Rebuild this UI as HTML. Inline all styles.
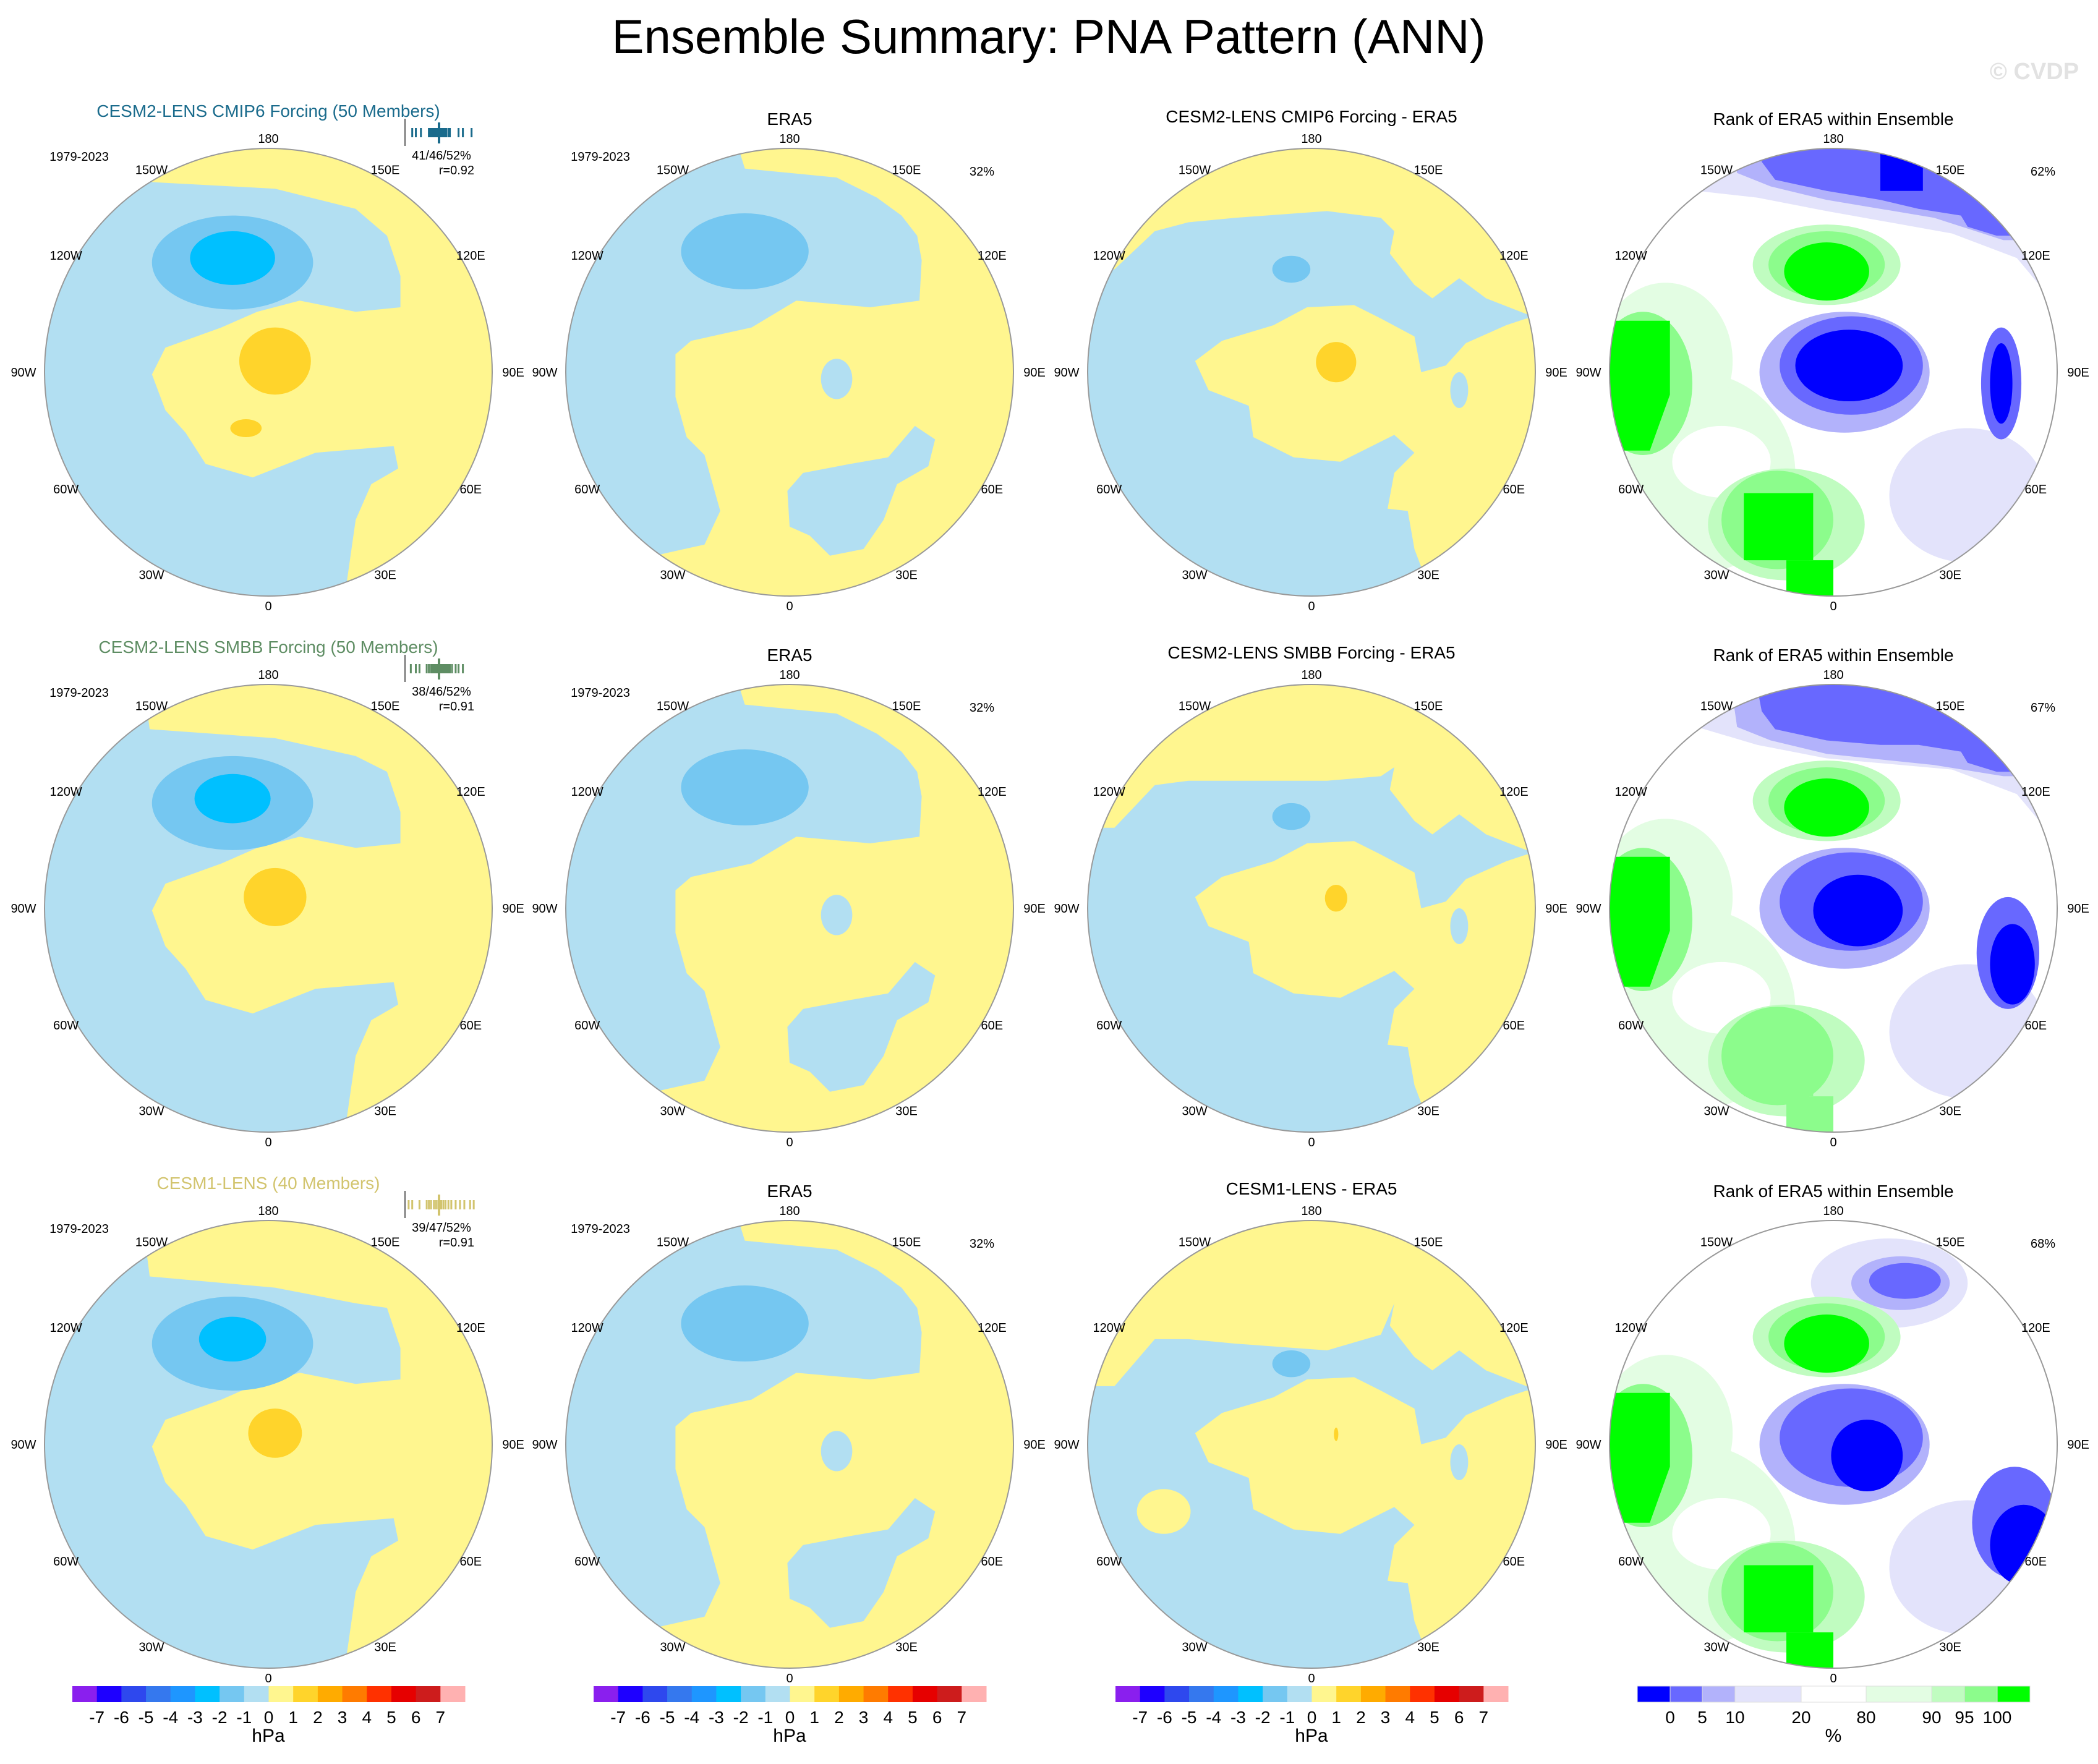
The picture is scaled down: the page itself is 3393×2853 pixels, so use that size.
<!DOCTYPE html>
<html><head><meta charset="utf-8"><title>Ensemble Summary: PNA Pattern (ANN)</title>
<style>
html,body{margin:0;padding:0;background:#fff;}
svg text{font-family:"Liberation Sans",Arial,sans-serif;}
</style></head>
<body>
<svg id="fig" xmlns="http://www.w3.org/2000/svg" width="3393" height="2848" viewBox="0 0 3393 2848">
<rect width="3393" height="2848" fill="#fff"/>
<text x="1696" y="86" font-size="78" text-anchor="middle" fill="#000">Ensemble Summary: PNA Pattern (ANN)</text>
<text x="3290" y="128" font-size="38" font-weight="bold" text-anchor="middle" fill="#e2e2e2">© CVDP</text>
<g id="panels"></g>
</svg>
<script>
// ---- data arrays ----
const colCX = [434, 1277, 2121, 2965];
const rowCY = [602, 1469, 2336];
const R = 362;
const hpaLevels = ["-7","-6","-5","-4","-3","-2","-1","0","1","2","3","4","5","6","7"];
const hpaColors = ["#8a1fee","#1e00ff","#2e48ee","#3578ee","#1e96ff","#00c0ff","#75c7f1","#b2dff2","#fff68f","#ffd42b","#ffab00","#ff7b00","#ff3100","#e60000","#cd1c1c","#ffb1b1"];
const rankLevels = ["0","5","10","20","80","90","95","100"];
const rankEdges = [0,53,105,158,265,370,476,529,582,635];
const rankColors = ["#0000ff","#6868ff","#b2b2fb","#e3e3fb","#ffffff","#e3fde3","#c0fcc0","#8cfc8c","#00ff00"];
const rowTitles = ["CESM2-LENS CMIP6 Forcing (50 Members)","CESM2-LENS SMBB Forcing (50 Members)","CESM1-LENS (40 Members)"];
const diffTitles = ["CESM2-LENS CMIP6 Forcing - ERA5","CESM2-LENS SMBB Forcing - ERA5","CESM1-LENS - ERA5"];
const rowColors = ["#1a6b8c","#5e8d63","#d2c46e"];
const statTexts = ["41/46/52%","38/46/52%","39/47/52%"];
const rTexts = ["r=0.92","r=0.91","r=0.91"];
const rankPct = ["62%","67%","68%"];
const memberVals = [
 [0.1,0.15,0.22,0.33,0.35,0.37,0.39,0.41,0.42,0.44,0.45,0.47,0.48,0.49,0.5,0.51,0.52,0.53,0.55,0.57,0.6,0.62,0.74,0.8,0.92],
 [0.08,0.15,0.2,0.3,0.33,0.36,0.38,0.4,0.42,0.44,0.46,0.47,0.48,0.5,0.51,0.52,0.54,0.56,0.58,0.6,0.62,0.65,0.7,0.74,0.8],
 [0.05,0.1,0.2,0.3,0.33,0.36,0.4,0.43,0.46,0.48,0.5,0.53,0.56,0.6,0.64,0.7,0.76,0.82,0.9,0.95]
];
const Y="#fff68f", B="#b2dff2", B2="#75c7f1", B3="#00c0ff", O="#ffd42b";
const LB="#e3e3fb", MB="#b2b2fb", BB="#6868ff", DB="#0000ff", LG="#e3fde3", MG="#c0fcc0", GG="#8cfc8c", DG="#00ff00";

const ensShape = (k)=>[
 {t:'poly',c:Y,p:[[-0.53,-0.85+k*0.05],[0.03,-0.82+k*0.06],[0.39,-0.73+k*0.05],[0.53,-0.61],[0.59,-0.43],[0.59,-0.29],[0.39,-0.27],[0.14,-0.32],[-0.05,-0.27],[-0.21,-0.2],[-0.46,-0.11],[-0.52,0.01],[-0.46,0.17],[-0.37,0.27],[-0.28,0.41],[-0.07,0.47],[0.21,0.36],[0.56,0.33],[0.58,0.43],[0.46,0.5],[0.39,0.66],[0.35,0.94],[0.3,1.3],[1.3,1.3],[1.3,-1.3],[-0.6,-1.3]]},
 {t:'ell',c:B2,x:-0.16,y:-0.49+k*0.02,rx:0.36,ry:0.21},
 {t:'ell',c:B3,x:-0.16,y:-0.51+k*0.02,rx:0.19-k*0.02,ry:0.12-k*0.01},
 {t:'ell',c:O,x:0.03,y:-0.05,rx:0.16-k*0.02,ry:0.15-k*0.02},
 {t:'ell',c:O,x:-0.1,y:0.25,rx:k?0:0.07,ry:0.04}
];
const eraShape = [
 {t:'poly',c:B,p:[[-0.29,-1.2],[-0.2,-0.91],[0.21,-0.87],[0.39,-0.78],[0.5,-0.7],[0.57,-0.61],[0.59,-0.5],[0.58,-0.32],[0.36,-0.29],[0.03,-0.32],[-0.17,-0.2],[-0.44,-0.14],[-0.51,-0.08],[-0.51,0.11],[-0.46,0.29],[-0.38,0.37],[-0.31,0.62],[-0.38,0.77],[-0.56,0.81],[-1.3,1.0],[-1.3,-1.3]]},
 {t:'ell',c:B2,x:-0.2,y:-0.54,rx:0.285,ry:0.17},
 {t:'ell',c:B,x:0.21,y:0.03,rx:0.07,ry:0.09},
 {t:'poly',c:B,p:[[0.44,0.38],[0.56,0.24],[0.65,0.3],[0.62,0.42],[0.48,0.5],[0.42,0.66],[0.33,0.79],[0.18,0.82],[0.09,0.73],[0,0.69],[-0.01,0.53],[0.06,0.45],[0.27,0.41]]}
];
const diffShape = (k)=>[
 {t:'poly',c:Y,p:[[-1.3,-0.46+k*0.1],[-0.88,-0.46+k*0.1],[-0.7,-0.63+k*0.08],[-0.55,-0.67+k*0.1],[-0.34,-0.69+k*0.12],[0.07,-0.72+k*0.15],[0.31,-0.69+k*0.1],[0.37,-0.63],[0.35,-0.53],[0.46,-0.39],[0.54,-0.33],[0.66,-0.42],[0.78,-0.33],[0.96,-0.26],[1.3,-0.26],[1.3,-1.3],[-1.3,-1.3]]},
 {t:'poly',c:Y,p:[[0.96,-0.24],[0.87,-0.21],[0.69,-0.13],[0.6,-0.03],[0.49,0.0],[0.46,-0.16],[0.31,-0.24],[0.19,-0.3],[-0.02,-0.29],[-0.17,-0.21],[-0.4,-0.14],[-0.52,-0.05],[-0.46,0.08],[-0.28,0.15],[-0.26,0.29],[-0.08,0.38],[0.13,0.4],[0.37,0.28],[0.46,0.36],[0.37,0.45],[0.34,0.61],[0.43,0.62],[0.46,0.79],[0.49,0.87],[0.5,1.3],[1.3,1.3],[1.3,-0.24]]},
 {t:'ell',c:B,x:0.66,y:0.08,rx:0.04,ry:0.08},
 {t:'ell',c:B2,x:-0.09,y:-0.46+k*0.05,rx:0.085,ry:0.06},
 {t:'ell',c:O,x:0.11,y:-0.045,rx:0.09-k*0.04,ry:0.09-k*0.03},
 {t:'ell',c:Y,x:-0.66,y:0.3,rx:k==2?0.12:0,ry:0.1}
];
const rankShape = (k)=>{
 const top = (k==2) ? [
  {t:'ell',c:LB,x:0.25,y:-0.72,rx:0.35,ry:0.2},
  {t:'ell',c:MB,x:0.3,y:-0.72,rx:0.22,ry:0.12},
  {t:'ell',c:BB,x:0.32,y:-0.73,rx:0.16,ry:0.08}
 ] : [
  {t:'poly',c:LB,p:[[-0.61,-0.81],[-0.34,-0.78+k*0.05],[-0.03,-0.72+k*0.05],[0.53,-0.62],[0.82,-0.51],[0.92,-0.39],[1.3,-0.39],[1.3,-1.3],[-0.7,-1.3]]},
  {t:'poly',c:MB,p:[[-0.43,-0.89+k*0.08],[-0.28,-0.83+k*0.08],[-0.03,-0.77+k*0.08],[0.45,-0.69+k*0.05],[0.76,-0.59],[1.3,-0.59],[1.3,-1.3],[-0.5,-1.3]]},
  {t:'poly',c:BB,p:[[-0.32,-0.94+k*0.06],[-0.26,-0.86+k*0.06],[-0.03,-0.81+k*0.06],[0.21,-0.77+k*0.04],[0.38,-0.73],[0.57,-0.7],[0.6,-0.65],[0.73,-0.61],[1.3,-0.61],[1.3,-1.3],[-0.4,-1.3]]},
  {t:'poly',c:k==0?DB:BB,p:[[0.21,-1.2],[0.21,-0.81],[0.4,-0.81],[0.4,-1.2]]}
 ];
 return top.concat([
 {t:'ell',c:LG,x:-0.62,y:0.45,rx:0.45,ry:0.45},
 {t:'ell',c:'#ffffff',x:-0.5,y:0.4,rx:0.22,ry:0.16},
 {t:'ell',c:LG,x:-0.75,y:-0.05,rx:0.3,ry:0.35},
 {t:'ell',c:GG,x:-0.85,y:0.05,rx:0.22,ry:0.32},
 {t:'poly',c:DG,p:[[-1.2,-0.23],[-0.73,-0.23],[-0.73,0.1],[-0.82,0.35],[-1.2,0.35]]},
 {t:'ell',c:MG,x:-0.03,y:-0.48,rx:0.33,ry:0.18},
 {t:'ell',c:GG,x:-0.03,y:-0.48,rx:0.26,ry:0.15},
 {t:'ell',c:DG,x:-0.03,y:-0.45,rx:0.19,ry:0.13},
 {t:'ell',c:LB,x:0.6,y:0.55,rx:0.35,ry:0.3},
 {t:'ell',c:MB,x:0.05,y:0.0,rx:0.38,ry:0.27},
 {t:'ell',c:BB,x:0.08,y:-0.03,rx:0.32,ry:0.22},
 {t:'ell',c:DB,x:0.07+k*0.04,y:-0.03+k*0.04,rx:0.24-k*0.04,ry:0.16},
 {t:'ell',c:BB,x:0.75+k*0.03,y:0.05+k*0.15,rx:0.09+k*0.05,ry:0.25},
 {t:'ell',c:DB,x:0.75+k*0.05,y:0.05+k*0.2,rx:0.05+k*0.05,ry:0.18},
 {t:'ell',c:MG,x:-0.21,y:0.68,rx:0.35,ry:0.25},
 {t:'ell',c:GG,x:-0.25,y:0.66,rx:0.25,ry:0.22},
 {t:'poly',c:k==1?GG:DG,p:[[-0.4,0.54],[-0.09,0.54],[-0.09,0.84],[-0.4,0.84]]},
 {t:'poly',c:k==1?GG:DG,p:[[-0.21,0.84],[0,0.84],[0,1.1],[-0.21,1.1]]}
 ]);
};

const lonLabels = ["180","150W","150E","120W","120E","90W","90E","60W","60E","30W","0","30E"];
const lonDeg = [180,-150,150,-120,120,-90,90,-60,60,-30,0,30];

const NS="http://www.w3.org/2000/svg";
const root=document.getElementById('panels');
function mk(tag,attrs,parent){const e=document.createElementNS(NS,tag);for(const k in attrs)e.setAttribute(k,attrs[k]);(parent||root).appendChild(e);return e;}
function txt(x,y,s,size,anchor,fill,parent){const t=mk('text',{x:x,y:y,'font-size':size,'text-anchor':anchor||'middle',fill:fill||'#000'},parent);t.textContent=s;return t;}

let pid=0;
function drawMap(cx,cy,base,shapes,name){
  pid++;
  const g=mk('g',{});
  
  
  const cp=mk('clipPath',{id:'cp'+pid},g);
  mk('circle',{cx:cx,cy:cy,r:R},cp);
  const inner=mk('g',{'clip-path':'url(#cp'+pid+')'},g);
  mk('circle',{cx:cx,cy:cy,r:R,fill:base},inner);
  shapes.forEach(s=>{
    let el;
    if(s.t==='poly'){
      el=mk('polygon',{points:s.p.map(q=>(cx+q[0]*R).toFixed(1)+','+(cy+q[1]*R).toFixed(1)).join(' '),fill:s.c},inner);
    } else {
      if(s.rx<=0)return;
      el=mk('ellipse',{cx:cx+s.x*R,cy:cy+s.y*R,rx:s.rx*R,ry:s.ry*R,fill:s.c},inner);
    }
    
    
  });
  const border=mk('circle',{cx:cx,cy:cy,r:R,fill:'none',stroke:'#999',"stroke-width":2},g);
  
  
  lonLabels.forEach((l,i)=>{
    const a=lonDeg[i]*Math.PI/180;
    const rr=(Math.abs(lonDeg[i])===90)?396:378;
    const t=txt(cx+Math.sin(a)*rr, cy+Math.cos(a)*rr+7, l, 20,'middle','#000',g);
    
    
  });
  return g;
}

for(let r=0;r<3;r++){
  const cy=rowCY[r];
  drawMap(colCX[0],cy,B,ensShape(r),'ensemble-map-row'+(r+1));
  let t=txt(colCX[0],cy-413,rowTitles[r],28,'middle',rowColors[r]);
  
  
  t=txt(colCX[0]-306,cy-342,"1979-2023",20);
  
  
  t=txt(colCX[0]+280,cy-344,statTexts[r],20);
  
  
  t=txt(colCX[0]+333,cy-320,rTexts[r],20,'end');
  
  
  const x0=colCX[0]+221, x1=colCX[0]+338;
  let ln=mk('line',{x1:x0,y1:cy-410,x2:x0,y2:cy-366,stroke:'#666','stroke-width':2});
  
  
  memberVals[r].forEach(v=>{
    const tk=mk('line',{x1:x0+v*(x1-x0),y1:cy-395,x2:x0+v*(x1-x0),y2:cy-380,stroke:rowColors[r],'stroke-width':3});
    
    
  });
  ln=mk('line',{x1:x0+0.47*(x1-x0),y1:cy-404,x2:x0+0.47*(x1-x0),y2:cy-370,stroke:rowColors[r],'stroke-width':4});
  
  

  drawMap(colCX[1],cy,Y,eraShape,'era5-map-row'+(r+1));
  t=txt(colCX[1],cy-400,"ERA5",28);
  
  
  t=txt(colCX[1]-306,cy-342,"1979-2023",20);
  
  
  t=txt(colCX[1]+311,cy-318,"32%",20);
  
  

  drawMap(colCX[2],cy,B,diffShape(r),'difference-map-row'+(r+1));
  t=txt(colCX[2],cy-404,diffTitles[r],28);
  
  

  drawMap(colCX[3],cy,'#ffffff',rankShape(r),'rank-map-row'+(r+1));
  t=txt(colCX[3],cy-400,"Rank of ERA5 within Ensemble",28);
  
  
  t=txt(colCX[3]+339,cy-318,rankPct[r],20);
  
  
}

const cbY=2727, cbH=26;
for(let c=0;c<3;c++){
  const x0=colCX[c]-317, w=635/hpaColors.length;
  const g=mk('g',{});
  
  
  hpaColors.forEach((col,i)=>{
    const b=mk('rect',{x:x0+i*w,y:cbY,width:w+0.5,height:cbH,fill:col},g);
    
    
  });
  hpaLevels.forEach((l,i)=>{
    const t=txt(x0+(i+1)*w,2787,l,28,'middle','#000',g);
    
    
  });
  const u=txt(colCX[c],2817,"hPa",30,'middle','#000',g);
  
  
}
{
  const x0=colCX[3]-317;
  const g=mk('g',{});
  
  
  rankColors.forEach((col,i)=>{
    const b=mk('rect',{x:x0+rankEdges[i],y:cbY,width:rankEdges[i+1]-rankEdges[i],height:cbH,fill:col,stroke:'#ddd','stroke-width':1},g);
    
    
  });
  rankLevels.forEach((l,i)=>{
    const t=txt(x0+rankEdges[i+1],2787,l,28,'middle','#000',g);
    
    
  });
  const u=txt(colCX[3],2817,"%",30,'middle','#000',g);
  
  
}
</script>
</body></html>
